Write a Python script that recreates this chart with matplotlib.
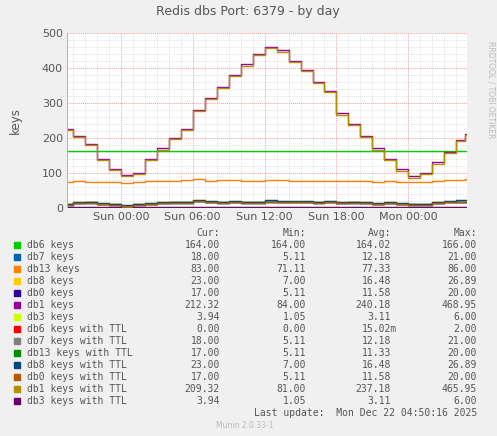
import matplotlib
matplotlib.use("Agg")
import matplotlib.pyplot as plt
from matplotlib.ticker import MultipleLocator

hours = [-4.5,-3.5,-2.5,-1.5,-0.5,0.5,1.5,2.5,3.5,4.5,5.5,6.5,7.5,8.5,9.5,10.5,11.5,12.5,
         13.5,14.5,15.5,16.5,17.5,18.5,19.5,20.5,21.5,22.5,23.5,24.5,25.5,26.5,27.5,28.5,28.9]
db1 = [225,205,182,140,112,95,100,140,170,200,225,280,315,345,380,410,440,460,
       450,420,395,360,335,270,240,205,170,140,110,90,100,130,160,195,212]
db1_ttl = [v - 3 for v in db1]
db6 = [164]*34 + [164]
db13 = [75,78,74,75,74,72,74,76,77,78,80,82,78,79,80,78,77,80,
        79,78,78,77,78,76,77,76,75,76,74,75,74,76,79,80,83]
db8 = [12,16,18,14,12,8,12,14,16,18,18,24,20,18,20,18,18,22,
       20,19,20,18,20,16,18,16,14,16,14,12,12,16,20,22,23]
db7 = [10,14,16,12,10,6,10,12,14,16,16,20,17,16,17,16,16,19,
       18,17,18,16,17,14,16,14,12,14,12,10,10,14,17,18,18]
db0 = [9,13,15,11,9,5,9,11,13,15,15,19,16,15,16,15,15,18,
       17,16,17,15,16,13,15,13,11,13,11,9,9,13,16,17,17]
db3 = [3,3,3,2,2,1,2,3,3,3,3,4,4,3,4,3,3,4,4,3,3,3,3,3,3,3,3,3,3,3,3,3,4,4,4]
db6_ttl = [0]*35

series = [
    ("db6 keys", "#00CC00", db6, "164.00", "164.00", "164.02", "166.00"),
    ("db7 keys", "#0066B3", db7, "18.00", "5.11", "12.18", "21.00"),
    ("db13 keys", "#FF8000", db13, "83.00", "71.11", "77.33", "86.00"),
    ("db8 keys", "#FFCC00", db8, "23.00", "7.00", "16.48", "26.89"),
    ("db0 keys", "#330099", db0, "17.00", "5.11", "11.58", "20.00"),
    ("db1 keys", "#990099", db1, "212.32", "84.00", "240.18", "468.95"),
    ("db3 keys", "#CCFF00", db3, "3.94", "1.05", "3.11", "6.00"),
    ("db6 keys with TTL", "#FF0000", db6_ttl, "0.00", "0.00", "15.02m", "2.00"),
    ("db7 keys with TTL", "#808080", db7, "18.00", "5.11", "12.18", "21.00"),
    ("db13 keys with TTL", "#008F00", db0, "17.00", "5.11", "11.33", "20.00"),
    ("db8 keys with TTL", "#00487D", db8, "23.00", "7.00", "16.48", "26.89"),
    ("db0 keys with TTL", "#B35A00", db0, "17.00", "5.11", "11.58", "20.00"),
    ("db1 keys with TTL", "#B38F00", db1_ttl, "209.32", "81.00", "237.18", "465.95"),
    ("db3 keys with TTL", "#6B006B", db3, "3.94", "1.05", "3.11", "6.00"),
]
xticks = [0, 6, 12, 18, 24]
xlabels = ["Sun 00:00", "Sun 06:00", "Sun 12:00", "Sun 18:00", "Mon 00:00"]

W, H = 497, 436
fig = plt.figure(figsize=(W/100, H/100), dpi=100, facecolor="#F0F0F0")
ax = fig.add_axes([67/W, (H-208)/H, 400/W, 175/H], facecolor="white")
for name, c, vals, *_ in series:
    ax.step(hours, vals, where="mid", color=c, lw=1)
ax.set_xlim(-4.5, 28.9)
ax.set_ylim(0, 500)
ax.set_xticks(xticks)
ax.set_xticklabels(xlabels)
ax.xaxis.set_minor_locator(MultipleLocator(1))
ax.yaxis.set_major_locator(MultipleLocator(100))
ax.yaxis.set_minor_locator(MultipleLocator(20))
ax.grid(which="minor", color="#DDDDDD", ls=(0, (1, 1)), lw=0.6)
ax.grid(which="major", color="#F0A0A0", ls=(0, (1, 1)), lw=0.7)
ax.set_axisbelow(True)
for s in ax.spines.values():
    s.set_visible(False)
ax.axhline(0, color="#AAAAFF", lw=0.8)
ax.axvline(-4.5, color="#AAAAFF", lw=0.8)
ax.tick_params(which="both", length=0, labelsize=8, colors="#555555", pad=3)
ax.set_ylabel("keys", fontsize=8.5, color="#555555", labelpad=14)
fig.text(248/W, 1-12/H, "Redis dbs Port: 6379 - by day", ha="center", va="center",
         fontsize=9, color="#555555")
fig.text(491/W, 1-90/H, "RRDTOOL / TOBI OETIKER", rotation=270, ha="center", va="center",
         fontsize=5.5, color="#BBBBBB")

mono = dict(family="DejaVu Sans Mono", fontsize=7, color="#555555", va="center")
cols = [220, 306, 391, 477]
for x, h in zip(cols, ["Cur:", "Min:", "Avg:", "Max:"]):
    fig.text(x/W, 1-233/H, h, ha="right", **mono)
for i, (name, c, vals, cur, mn, avg, mx) in enumerate(series):
    y = 245 + 12*i
    fig.patches.append(plt.Rectangle((14/W, 1-(y+3)/H), 6/W, 6/H, color=c,
                                     transform=fig.transFigure, figure=fig))
    fig.text(27/W, 1-y/H, name, ha="left", **mono)
    for x, v in zip(cols, [cur, mn, avg, mx]):
        xx = x + (6 if v.endswith("m") else 0)
        fig.text(xx/W, 1-y/H, v, ha="right", **mono)
fig.text(477/W, 1-413/H, "Last update:  Mon Dec 22 04:50:16 2025", ha="right", **mono)
fig.text(245/W, 1-425/H, "Munin 2.0.33-1", ha="center", family="DejaVu Sans",
         fontsize=5.5, color="#BBBBBB", va="center")
fig.savefig("out.png", dpi=100, facecolor=fig.get_facecolor())
